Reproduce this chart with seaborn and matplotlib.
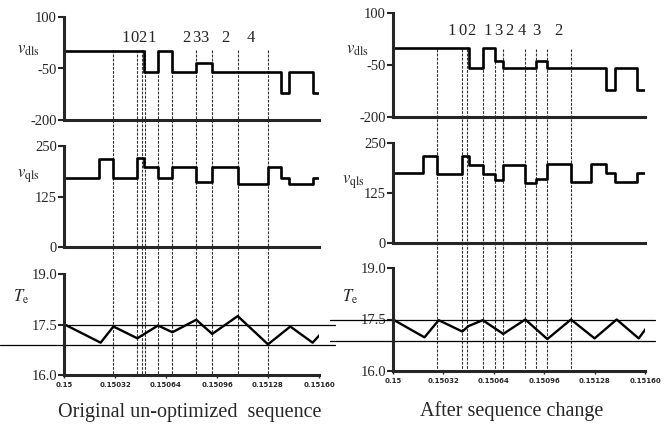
import matplotlib
matplotlib.use("Agg")
import matplotlib.pyplot as plt
import seaborn as sns
import pandas as pd

# ------------------------------------------------------
# data
# ------------------------------------------------------
# left column: original un-optimized sequence
orig_vd_t = [0.15, 0.15050, 0.15059, 0.15068, 0.15083, 0.15093, 0.15136, 0.15141, 0.15156, 0.15161]
orig_vd = [0, -60, 0, -60, -35, -60, -120, -60, -120, -120]

orig_vq_t = [0.15, 0.15022, 0.15031, 0.15046, 0.15050, 0.15059, 0.15068, 0.15083,
             0.15093, 0.15109, 0.15128, 0.15136, 0.15141, 0.15156, 0.15161]
orig_vq = [172, 217, 172, 220, 197, 172, 197, 162, 197, 156, 197, 172, 156, 172, 172]

orig_te_t = [0.15, 0.15023, 0.15031, 0.15046, 0.15059, 0.15068, 0.15083,
             0.15093, 0.15109, 0.15128, 0.15142, 0.15156, 0.15161]
orig_te = [17.51, 16.96, 17.44, 17.09, 17.47, 17.27, 17.64, 17.22, 17.75, 16.91, 17.44, 16.96, 17.22]

orig_switch_t = [0.15031, 0.15046, 0.15049, 0.15051, 0.15059, 0.15068, 0.15083, 0.15093, 0.15109, 0.15128]
orig_seq = ["1", "0", "2", "1", "2", "3", "3", "2", "4"]
orig_seq_t = [0.15039, 0.15044, 0.15049, 0.15055, 0.15077, 0.15083, 0.15088, 0.15101, 0.15117]

# right column: after sequence change
new_vd_t = [0.15, 0.15048, 0.15057, 0.15065, 0.15070, 0.15091, 0.15098, 0.15135, 0.15141, 0.15155, 0.15161]
new_vd = [0, -60, 0, -38, -60, -38, -60, -122, -60, -122, -122]

new_vq_t = [0.15, 0.15019, 0.15028, 0.15044, 0.15048, 0.15057, 0.15065, 0.15070, 0.15084,
            0.15091, 0.15098, 0.15113, 0.15126, 0.15135, 0.15141, 0.15155, 0.15161]
new_vq = [174, 217, 172, 217, 195, 172, 157, 195, 151, 159, 197, 152, 197, 174, 152, 176, 176]

new_te_t = [0.15, 0.15020, 0.15029, 0.15044, 0.15048, 0.15057, 0.15070, 0.15084,
            0.15098, 0.15113, 0.15128, 0.15142, 0.15156, 0.15161]
new_te = [17.5, 16.98, 17.48, 17.15, 17.31, 17.48, 17.08, 17.5, 16.93, 17.5, 16.95, 17.5, 16.95, 17.26]

new_switch_t = [0.15028, 0.15044, 0.15047, 0.15057, 0.15065, 0.15070, 0.15084, 0.15091, 0.15098, 0.15113]
new_seq = ["1", "0", "2", "1", "3", "2", "4", "3", "2"]
new_seq_t = [0.15037, 0.15044, 0.15050, 0.15060, 0.15067, 0.15074, 0.15082, 0.15091, 0.15105]

# torque hysteresis band
band_hi = 17.5
band_lo_orig = 16.89
band_lo_new = 16.86

x_ticks = [0.15, 0.15032, 0.15064, 0.15096, 0.15128, 0.15160]
x_ticklabels = ["0.15", "0.15032", "0.15064", "0.15096", "0.15128", "0.15160"]
vd_ticks = [100, -50, -200]
vq_ticks = [250, 125, 0]
te_ticks = [19.0, 17.5, 16.0]

captions = ["Original un-optimized  sequence", "After sequence change"]

# ------------------------------------------------------
# style
# ------------------------------------------------------
sns.set_style("ticks")
plt.rcParams["font.family"] = ["Liberation Serif", "DejaVu Serif"]
plt.rcParams["mathtext.fontset"] = "stix"

W, H = 667, 425
fig = plt.figure(figsize=(6.67, 4.25), dpi=100)


def px_axes(x0, x1, ytop, ybot):
    return fig.add_axes([x0 / W, 1 - ybot / H, (x1 - x0) / W, (ybot - ytop) / H])


def style_axes(ax, yticks, ylim, ylabels):
    ax.set_xlim(0.15, 0.1516)
    ax.set_ylim(*ylim)
    ax.set_facecolor("none")
    sns.despine(ax=ax)
    for s in ["left", "bottom"]:
        ax.spines[s].set_linewidth(2.2)
    ax.set_yticks(yticks)
    ax.set_yticklabels(ylabels, fontsize=10.5)
    ax.tick_params(axis="y", length=4, width=1.5, pad=1)
    ax.set_xlabel("")
    ax.set_ylabel("")


def step_trace(ax, t, v):
    df = pd.DataFrame({"t": t, "v": v})
    sns.lineplot(data=df, x="t", y="v", ax=ax, color="black", lw=1.9,
                 drawstyle="steps-post", estimator=None)


def te_trace(ax, t, v):
    df = pd.DataFrame({"t": t, "v": v})
    sns.lineplot(data=df, x="t", y="v", ax=ax, color="black", lw=1.7, estimator=None)


columns = [
    dict(x0=64, x1=319, rows=[(17, 120), (146, 247), (274, 375)],
         vd=(orig_vd_t, orig_vd), vq=(orig_vq_t, orig_vq), te=(orig_te_t, orig_te),
         sw=orig_switch_t, seq=orig_seq, seq_t=orig_seq_t, seq_y=0.796,
         lo=band_lo_orig, hi_x=(0.0, 1.063), lo_x=(-0.25, 1.063),
         line_y=(0.68, -2.48), cap=captions[0], cap_x=190, cap_y=413,
         lab=[(-0.141, 0.68), (-0.141, 0.70), (-0.169, 0.77)]),
    dict(x0=393, x1=645, rows=[(13, 117), (143, 243), (268, 371)],
         vd=(new_vd_t, new_vd), vq=(new_vq_t, new_vq), te=(new_te_t, new_te),
         sw=new_switch_t, seq=new_seq, seq_t=new_seq_t, seq_y=0.827,
         lo=band_lo_new, hi_x=(-0.25, 1.04), lo_x=(-0.25, 1.04),
         line_y=(0.654, -2.44), cap=captions[1], cap_x=512, cap_y=411,
         lab=[(-0.143, 0.644), (-0.159, 0.61), (-0.17, 0.72)]),
]

for col in columns:
    (t0, b0), (t1, b1), (t2, b2) = col["rows"]
    ax_d = px_axes(col["x0"], col["x1"], t0, b0)
    ax_q = px_axes(col["x0"], col["x1"], t1, b1)
    ax_t = px_axes(col["x0"], col["x1"], t2, b2)

    step_trace(ax_d, *col["vd"])
    step_trace(ax_q, *col["vq"])
    te_trace(ax_t, *col["te"])

    style_axes(ax_d, vd_ticks, (-200, 100), ["100", "-50", "-200"])
    style_axes(ax_q, vq_ticks, (0, 250), ["250", "125", "0"])
    style_axes(ax_t, te_ticks, (16.0, 19.0), ["19.0", "17.5", "16.0"])

    for ax in (ax_d, ax_q):
        ax.set_xticks([])
    ax_t.set_xticks(x_ticks)
    ax_t.set_xticklabels(x_ticklabels, fontsize=5, fontweight="bold",
                         family=["DejaVu Sans"])
    ax_t.tick_params(axis="x", length=2, width=1, pad=3)

    # hysteresis band lines
    ax_t.axhline(band_hi, xmin=col["hi_x"][0], xmax=col["hi_x"][1],
                 color="black", lw=0.9, clip_on=False)
    ax_t.axhline(col["lo"], xmin=col["lo_x"][0], xmax=col["lo_x"][1],
                 color="black", lw=0.9, clip_on=False)

    # switching instants, dashed through all three traces
    trans = ax_d.get_xaxis_transform()
    for t in col["sw"]:
        ax_d.plot([t, t], list(col["line_y"]), transform=trans, color="0.2",
                  lw=0.8, ls=(0, (2.5, 1.2)), clip_on=False, zorder=0)

    # switching sequence numbers
    for s, t in zip(col["seq"], col["seq_t"]):
        ax_d.text(t, col["seq_y"], s, transform=trans, ha="center", va="center",
                  fontsize=12)

    labels = [r"$v_{\mathrm{dls}}$", r"$v_{\mathrm{qls}}$", r"$T_{\mathrm{e}}$"]
    for ax, lab, (lx, ly) in zip((ax_d, ax_q, ax_t), labels, col["lab"]):
        ax.text(lx, ly, lab, transform=ax.transAxes, ha="center", va="center",
                fontsize=12)

    fig.text(col["cap_x"] / W, 1 - col["cap_y"] / H, col["cap"],
             ha="center", va="center", fontsize=14.5)

fig.savefig("out.png", dpi=100)
